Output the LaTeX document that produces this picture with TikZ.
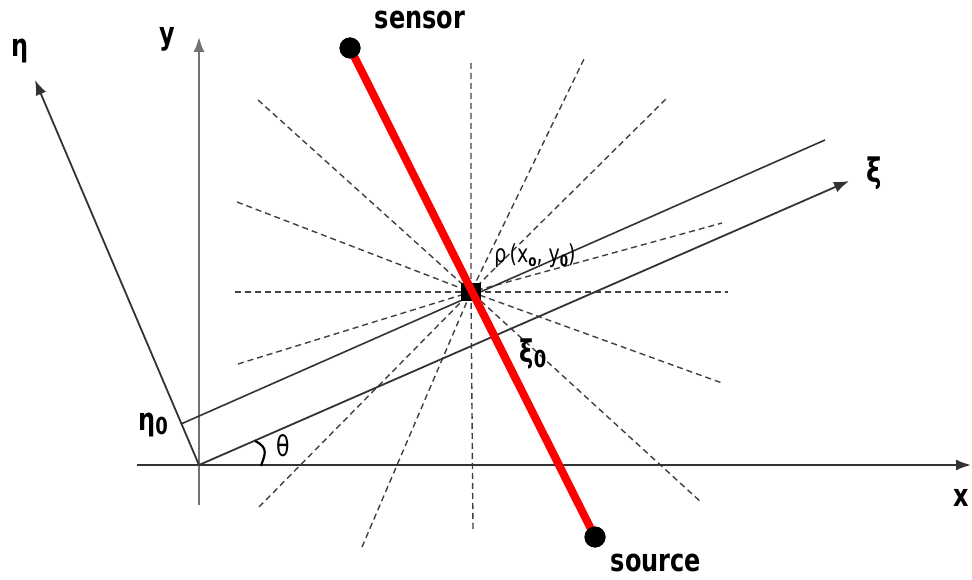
\documentclass[tikz,border=0pt]{standalone}
\usepackage{fontspec}
\usepackage{graphicx}
\setmainfont{DejaVu Sans}
\usetikzlibrary{arrows.meta,calc}
\newcommand\tallbox[1]{\scalebox{1}[1.3]{#1}}
\tikzset{
  axis/.style={line width=1.8pt, draw=black!80, -{Latex[length=15pt,width=11pt]}},
  yaxis/.style={line width=2pt, draw=black!55, -{Latex[length=15pt,width=11pt]}},
  thinline/.style={line width=1.6pt, draw=black!80},
  ray/.style={line width=1.4pt, draw=black!75, dash pattern=on 6pt off 4pt},
  beam/.style={line width=8pt, draw=red},
  dot/.style={circle, fill=black, inner sep=0pt, minimum size=21pt},
  biglabel/.style={font=\fontsize{24}{26}\selectfont\bfseries, inner sep=0pt},
  greek/.style={font=\fontsize{24}{26}\selectfont\bfseries, inner sep=0pt},
  smalllabel/.style={font=\fontsize{19}{21}\selectfont, inner sep=0pt}
}
\begin{document}
\begin{tikzpicture}[x=1pt,y=-1pt]
\useasboundingbox (0,0) rectangle (972,580);
% key points
\coordinate (O) at (199,465);
\coordinate (P) at (471,292);
% fan of dashed rays through P
\coordinate (a1) at (258,100); \coordinate (a2) at (702,503);
\coordinate (b1) at (237,202); \coordinate (b2) at (722,383);
\coordinate (c1) at (238,364); \coordinate (c2) at (722,223);
\coordinate (d1) at (259,507); \coordinate (d2) at (666,99);
\coordinate (e1) at (362,547); \coordinate (e2) at (584,59);
\coordinate (h1) at (235,292); \coordinate (h2) at (728,292);
\coordinate (v1) at (471,63);  \coordinate (v2) at (473,530);
\foreach \n in {a,b,c,d,e,h,v}{
  \draw[ray] (\n1) -- (P) -- (\n2);
}
% axes
\coordinate (xs) at (137,465); \coordinate (xe) at (971,465);
\coordinate (ys) at (199,505); \coordinate (ye) at (199,37);
\coordinate (etaE) at (35,80);
\coordinate (xiE) at (849,181);
\coordinate (u1) at (181,424); \coordinate (u2) at (825,140);
\draw[axis] (xs) -- (xe);
\draw[yaxis] (ys) -- (ye);
\draw[axis] (O) -- (etaE);
\draw[axis] (O) -- (xiE);
\draw[thinline] (u1) -- (u2);
% theta arc
\coordinate (t1) at (255,441);
\coordinate (t2) at (261,466);
\draw[line width=2.2pt] (t1) .. controls (270,448) and (264,456) .. (t2);
% center marker
\fill[black] ($(P)+(-10,-9)$) rectangle ($(P)+(10,9)$);
% beam
\node[dot] (S) at (350,48) {};
\node[dot] (R) at (595,537) {};
\draw[beam] (S.center) -- (R.center);
\node[dot] at (S) {};
\node[dot] at (R) {};
% labels
\node[biglabel] (ls) at (420,20) {\tallbox{sensor}};
\node[biglabel] (lr) at (656,563) {\tallbox{source}};
\node[biglabel] (lx) at (961,498) {\tallbox{x}};
\node[biglabel] (ly) at (167,39) {\tallbox{y}};
\node[greek] (leta) at (20,51) {\tallbox{η}};
\node[greek, font=\fontsize{26}{28}\selectfont\bfseries] (lxi) at (874,173) {\tallbox{ξ}};
\node[font=\fontsize{22}{24}\selectfont, inner sep=0pt] (lth) at (283,446) {\tallbox{θ}};
\node[greek, anchor=east] (leta0) at (168,425) {\tallbox{η\raisebox{-3pt}{\fontsize{18}{19}\selectfont 0}}};
\node[greek] (lxi0) at (533,354) {\tallbox{ξ\raisebox{-4pt}{\fontsize{18}{19}\selectfont 0}}};
\node[smalllabel] (lp) at (535,256) {\tallbox{ρ\,(x\raisebox{-3pt}{\fontsize{12}{13}\selectfont\bfseries o}, y\raisebox{-3pt}{\fontsize{12}{13}\selectfont\bfseries 0})}};
\end{tikzpicture}
\end{document}
